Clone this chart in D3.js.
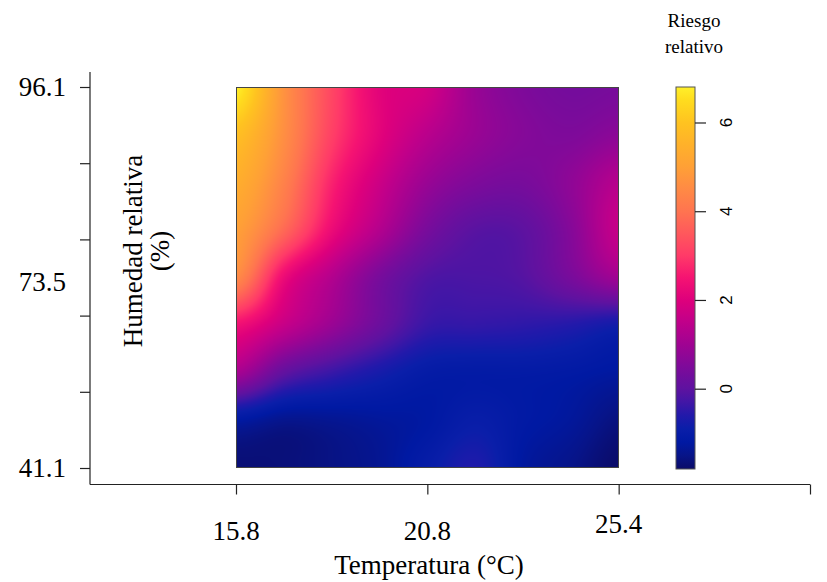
<!DOCTYPE html>
<html>
<head>
<meta charset="utf-8">
<script src="https://cdn.jsdelivr.net/npm/d3@7"></script>
<style>
  body { margin: 0; background: #fff; }
  svg { display: block; }
</style>
</head>
<body>
<svg width="827" height="582"></svg>
<script>
// tick positions (index units) and labels
var tempTickPos = [0, 1, 2, 3];
var tempLabels = ["15.8", "20.8", "25.4"];
var humTickPos = [0, 1, 2, 3, 4, 5];
var humLabelPos = [0, 2.45, 5];
var humLabels = ["41.1", "73.5", "96.1"];

// grid of relative risk (rows top -> bottom)
var tempKnots = [0, 0.25, 0.5, 0.75, 1, 1.25, 1.5, 1.75, 2];
var humKnots = [5, 4.375, 3.75, 3.125, 2.5, 1.875, 1.25, 0.625, 0];
var rr = [
  [6.8, 4.7, 3.2, 2.1, 1.8, 0.9, 0.5, 0.35, 0.4],
  [5.9, 4.6, 3.1, 2.1, 1.4, 0.9, 0.6, 0.5, 0.7],
  [5.4, 4.3, 2.7, 1.7, 0.9, 0.5, 0.4, 0.75, 1.35],
  [5.0, 3.8, 2.3, 1.3, 0.4, -0.05, 0.0, 0.6, 1.6],
  [4.5, 2.3, 1.3, 0.4, -0.15, -0.2, -0.1, 0.4, 1.0],
  [2.4, 1.6, 0.9, 0.2, -0.4, -0.45, -0.5, -0.6, -0.8],
  [1.1, 0.05, -0.4, -0.75, -1.05, -1.1, -1.1, -1.15, -1.25],
  [-1.2, -1.45, -1.4, -1.3, -1.2, -0.95, -1.15, -1.3, -1.6],
  [-1.7, -1.65, -1.55, -1.4, -1.0, -0.65, -1.25, -1.5, -1.8]
];
var rrRange = [-1.81, 6.80];
var rrTicks = [0, 2, 4, 6];

var svg = d3.select('svg');
var serif = '"Liberation Serif", "Times New Roman", serif';

var x = d3.scaleLinear().domain([0, 3]).range([236, 810]);
var y = d3.scaleLinear().domain([0, 5]).range([468, 87]);

// colour ramp
var cStops = [-1.81, -1.5, -1.2, -0.9, -0.6, -0.3, 0, 0.5, 1, 1.5, 2, 2.5, 3, 3.5, 4, 4.5, 5, 5.5, 6, 6.5, 6.8];
var cCols = ["#0b0b68", "#071489", "#0019a3", "#0a1ea9", "#2219aa", "#4216a6", "#5e12a0", "#7e0a9a",
  "#a00392", "#c0008a", "#de007c", "#f51372", "#ff3a68", "#ff585c", "#ff7450", "#ff8a45",
  "#ffa036", "#ffb12a", "#ffc320", "#ffdc1e", "#fff02a"];
var color = d3.scaleLinear().domain(cStops).range(cCols).clamp(true);

// smooth (catmull-rom) lookup in the grid
function cr(p0, p1, p2, p3, t) {
  return 0.5 * (2 * p1 + (-p0 + p2) * t + (2 * p0 - 5 * p1 + 4 * p2 - p3) * t * t +
    (-p0 + 3 * p1 - 3 * p2 + p3) * t * t * t);
}
function cell(r, c) {
  r = Math.max(0, Math.min(rr.length - 1, r));
  c = Math.max(0, Math.min(rr[0].length - 1, c));
  return rr[r][c];
}
function surf(r, c) {
  var r0 = Math.min(Math.floor(r), rr.length - 2), fr = r - r0;
  var c0 = Math.min(Math.floor(c), rr[0].length - 2), fc = c - c0;
  var rows = [];
  for (var k = -1; k <= 2; k++) {
    rows.push(cr(cell(r0 + k, c0 - 1), cell(r0 + k, c0), cell(r0 + k, c0 + 1), cell(r0 + k, c0 + 2), fc));
  }
  return cr(rows[0], rows[1], rows[2], rows[3], fr);
}

// heat map drawn pixel by pixel into a canvas
var x0 = Math.round(x(0)), x1 = Math.round(x(2));
var y0 = Math.round(y(5)), y1 = Math.round(y(0));
var w = x1 - x0, h = y1 - y0;
var colIdx = d3.scaleLinear().domain(tempKnots).range(d3.range(tempKnots.length)).clamp(true);
var rowIdx = d3.scaleLinear().domain(humKnots).range(d3.range(humKnots.length)).clamp(true);
var cv = document.createElement('canvas');
cv.width = w; cv.height = h;
var ctx = cv.getContext('2d');
var img = ctx.createImageData(w, h);
for (var j = 0; j < h; j++) {
  var r = rowIdx(y.invert(y0 + j + 0.5));
  for (var i = 0; i < w; i++) {
    var c = colIdx(x.invert(x0 + i + 0.5));
    var col = d3.rgb(color(surf(r, c)));
    var k = (j * w + i) * 4;
    img.data[k] = col.r; img.data[k + 1] = col.g; img.data[k + 2] = col.b; img.data[k + 3] = 255;
  }
}
ctx.putImageData(img, 0, 0);
svg.append('image').attr('x', x0).attr('y', y0).attr('width', w).attr('height', h)
  .attr('href', cv.toDataURL());
svg.append('rect').attr('x', x0 + 0.5).attr('y', y0 + 0.5).attr('width', w - 1).attr('height', h - 1)
  .attr('fill', 'none').attr('stroke', '#444').attr('stroke-width', 1);

// axes lines (L box)
svg.append('line').attr('x1', 90).attr('x2', 90).attr('y1', 72).attr('y2', 484.5)
  .attr('stroke', '#222').attr('stroke-width', 1.2);
svg.append('line').attr('x1', 90).attr('x2', 810).attr('y1', 484.5).attr('y2', 484.5)
  .attr('stroke', '#222').attr('stroke-width', 1.2);

var ya = svg.append('g').attr('transform', 'translate(90,0)')
  .call(d3.axisLeft(y).tickValues(humTickPos).tickSize(10).tickFormat(''));
ya.select('.domain').remove();
ya.selectAll('line').attr('stroke', '#222').attr('stroke-width', 1.2);

var xa = svg.append('g').attr('transform', 'translate(0,484.5)')
  .call(d3.axisBottom(x).tickValues(tempTickPos).tickSize(10).tickFormat(''));
xa.select('.domain').remove();
xa.selectAll('line').attr('stroke', '#222').attr('stroke-width', 1.2);

svg.selectAll('.ylab').data(humLabels).enter().append('text')
  .attr('x', 66).attr('y', function(d, i) { return y(humLabelPos[i]); })
  .attr('dy', '0.35em').attr('text-anchor', 'end')
  .style('font-family', serif).style('font-size', '27px').text(function(d) { return d; });

var xLabDy = [0, 0, -7];
svg.selectAll('.xlab').data(tempLabels).enter().append('text')
  .attr('x', function(d, i) { return x(tempTickPos[i]); })
  .attr('y', function(d, i) { return 540 + xLabDy[i]; })
  .attr('text-anchor', 'middle')
  .style('font-family', serif).style('font-size', '27px').text(function(d) { return d; });

svg.append('text').attr('x', 429).attr('y', 574).attr('text-anchor', 'middle')
  .style('font-family', serif).style('font-size', '27px').text('Temperatura (°C)');

var yt = svg.append('text').attr('transform', 'translate(142,251) rotate(-90)')
  .attr('text-anchor', 'middle').style('font-family', serif).style('font-size', '27px');
yt.append('tspan').attr('x', 0).attr('y', 0).text('Humedad relativa');
yt.append('tspan').attr('x', 0).attr('y', 27).text('(%)');

// colour bar
var cb = d3.scaleLinear().domain(rrRange).range([469, 87]);
var grad = svg.append('defs').append('linearGradient').attr('id', 'cbg')
  .attr('x1', 0).attr('y1', 1).attr('x2', 0).attr('y2', 0);
grad.selectAll('stop').data(cStops).enter().append('stop')
  .attr('offset', function(d) { return (d - rrRange[0]) / (rrRange[1] - rrRange[0]); })
  .attr('stop-color', function(d) { return color(d); });
svg.append('rect').attr('x', 676).attr('y', cb(rrRange[1])).attr('width', 19)
  .attr('height', cb(rrRange[0]) - cb(rrRange[1])).attr('fill', 'url(#cbg)')
  .attr('stroke', '#555').attr('stroke-width', 1);

var ca = svg.append('g').attr('transform', 'translate(695,0)')
  .call(d3.axisRight(cb).tickValues(rrTicks).tickSize(11).tickFormat(''));
ca.select('.domain').remove();
ca.selectAll('line').attr('stroke', '#222').attr('stroke-width', 1.2);
svg.selectAll('.clab').data(rrTicks).enter().append('text')
  .attr('transform', function(d) { return 'translate(726,' + cb(d) + ') rotate(-90)'; })
  .attr('dy', '0.35em').attr('text-anchor', 'middle')
  .style('font-family', '"Liberation Sans", Arial, sans-serif').style('font-size', '17px')
  .text(function(d) { return d; });

svg.append('text').attr('x', 694).attr('y', 27).attr('text-anchor', 'middle')
  .style('font-family', serif).style('font-size', '19px').text('Riesgo');
svg.append('text').attr('x', 694).attr('y', 53).attr('text-anchor', 'middle')
  .style('font-family', serif).style('font-size', '19px').text('relativo');
</script>
</body>
</html>
